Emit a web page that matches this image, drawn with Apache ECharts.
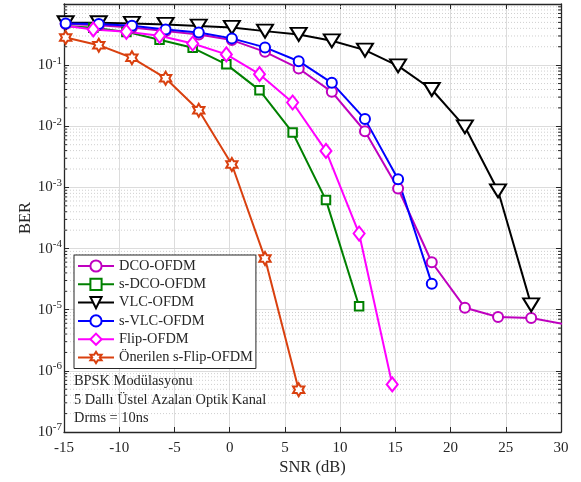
<!DOCTYPE html>
<html>
<head>
<meta charset="utf-8">
<script src="https://cdn.jsdelivr.net/npm/echarts@6/dist/echarts.min.js"></script>
<style>
  html, body { margin: 0; padding: 0; background: #ffffff; }
  #chart { width: 581px; height: 482px; }
</style>
</head>
<body>
<div id="chart"></div>
<script>
// SNR sample points (dB) for the two measurement grids
const snrMain = [-14.85, -11.85, -8.85, -5.8, -2.8, 0.2, 3.2, 6.25, 9.25, 12.25, 15.25, 18.3, 21.3, 24.3, 27.3, 30.35];
const snrShift = [-15.3, -12.35, -9.35, -6.35, -3.35, -0.3, 2.7, 5.7, 8.72, 11.72, 14.72];

// BER per scheme
const berDCO   = [0.469, 0.45, 0.414, 0.36, 0.318, 0.257, 0.165, 0.0883, 0.0366, 0.0083, 9.6e-4, 5.97e-5, 1.08e-5, 7.6e-6, 7.3e-6, 5.8e-6];
const berSDCO  = [0.44, 0.41, 0.35, 0.261, 0.192, 0.103, 0.039, 0.0079, 6.2e-4, 1.14e-5];
const berVLC   = [0.494, 0.494, 0.481, 0.464, 0.435, 0.414, 0.36, 0.318, 0.25, 0.176, 0.0974, 0.04, 0.0098, 8.8e-4, 1.2e-5];
const berSVLC  = [0.48, 0.469, 0.44, 0.384, 0.343, 0.274, 0.195, 0.116, 0.0513, 0.0131, 1.36e-3, 2.67e-5];
const berFlip  = [0.45, 0.384, 0.351, 0.302, 0.226, 0.15, 0.0712, 0.0245, 0.00396, 1.76e-4, 6.0e-7];
const berSFlip = [0.284, 0.212, 0.132, 0.0612, 0.0183, 0.00237, 6.9e-5, 4.9e-7];

const seriesNames = ['DCO-OFDM', 's-DCO-OFDM', 'VLC-OFDM', 's-VLC-OFDM', 'Flip-OFDM', 'Önerilen s-Flip-OFDM'];

// Axis ticks
const xTicks = [-15, -10, -5, 0, 5, 10, 15, 20, 25, 30];
const yExponents = [-7, -6, -5, -4, -3, -2, -1, 0];

const notes = ['BPSK Modülasyonu', '5 Dallı Üstel Azalan Optik Kanal', 'Drms = 10ns'];

const FONT = '"Liberation Serif", "Times New Roman", serif';
const INK = '#262626';
const xMin = xTicks[0], xMax = xTicks[xTicks.length - 1];
const yMin = Math.pow(10, yExponents[0]), yMax = Math.pow(10, yExponents[yExponents.length - 1]);

// minor decade positions 2..9 x 10^n
const minorY = [];
for (let e = yExponents[0]; e < yExponents[yExponents.length - 1]; e++) {
  for (let m = 2; m <= 9; m++) minorY.push(m * Math.pow(10, e));
}

const hexagram = 'path://M0,-10 L2.887,-5 L8.66,-5 L5.774,0 L8.66,5 L2.887,5 L0,10 L-2.887,5 L-8.66,5 L-5.774,0 L-8.66,-5 L-2.887,-5 Z';

function curve(name, xs, ys, color, symbol, size, extra) {
  return Object.assign({
    name: name,
    type: 'line',
    data: ys.map((v, i) => [xs[i], v]),
    symbol: symbol,
    symbolSize: size,
    showSymbol: true,
    showAllSymbol: true,
    clip: true,
    lineStyle: { color: color, width: 2 },
    itemStyle: { color: '#ffffff', borderColor: color, borderWidth: 2 },
    emphasis: { disabled: true },
    z: 3
  }, extra || {});
}

const chart = echarts.init(document.getElementById('chart'), null, { renderer: 'canvas' });

const option = {
  animation: false,
  backgroundColor: '#ffffff',
  grid: { left: 64, right: 20, top: 4, bottom: 50, show: false },
  xAxis: [
    {
      type: 'value', min: xMin, max: xMax, interval: 5,
      axisLine: { show: true, onZero: false, lineStyle: { color: INK, width: 1.3 } },
      axisTick: { show: true, inside: true, length: 5, lineStyle: { color: INK } },
      axisLabel: { color: INK, fontFamily: FONT, fontSize: 15, margin: 9,
                   formatter: v => (v < 0 ? '-' + Math.abs(v) : String(v)) },
      splitLine: { show: true, lineStyle: { color: '#dcdcdc', width: 1 } },
      name: 'SNR (dB)', nameLocation: 'middle', nameGap: 27, nameMoveOverlap: false,
      nameTextStyle: { color: INK, fontFamily: FONT, fontSize: 16.5 }
    },
    {
      type: 'value', min: xMin, max: xMax, interval: 5, position: 'top',
      axisLine: { show: true, onZero: false, lineStyle: { color: INK, width: 1.3 } },
      axisTick: { show: true, inside: true, length: 5, lineStyle: { color: INK } },
      axisLabel: { show: false },
      splitLine: { show: false }
    }
  ],
  yAxis: [
    {
      type: 'log', logBase: 10, min: yMin, max: yMax, interval: 1,
      axisLine: { show: true, onZero: false, lineStyle: { color: INK, width: 1.3 } },
      axisTick: { show: true, inside: true, length: 5, lineStyle: { color: INK } },
      axisLabel: {
        margin: 2,
        formatter: function (v) {
          const e = Math.round(Math.log10(v));
          if (e === 0) return '';
          return '{b|10}{e|' + (e < 0 ? '-' + Math.abs(e) : e) + '}';
        },
        rich: {
          b: { fontFamily: FONT, fontSize: 15, color: INK, lineHeight: 20 },
          e: { fontFamily: FONT, fontSize: 11, color: INK, verticalAlign: 'top', lineHeight: 11 }
        }
      },
      splitLine: { show: true, lineStyle: { color: '#dcdcdc', width: 1 } },
      name: 'BER', nameLocation: 'middle', nameGap: 30, nameRotate: 90, nameMoveOverlap: false,
      nameTextStyle: { color: INK, fontFamily: FONT, fontSize: 16.5 }
    },
    {
      type: 'log', logBase: 10, min: yMin, max: yMax, interval: 1, position: 'right',
      axisLine: { show: true, onZero: false, lineStyle: { color: INK, width: 1.3 } },
      axisTick: { show: true, inside: true, length: 5, lineStyle: { color: INK } },
      axisLabel: { show: false },
      splitLine: { show: false }
    }
  ],
  legend: {
    data: seriesNames,
    orient: 'vertical',
    left: 74, top: 255,
    backgroundColor: '#ffffff',
    borderColor: INK, borderWidth: 1, borderRadius: 0,
    padding: [4, 3, 4, 3],
    itemWidth: 36, itemHeight: 14, itemGap: 4.3,
    selectedMode: false,
    textStyle: { color: INK, fontFamily: FONT, fontSize: 14.4 }
  },
  graphic: [
    {
      type: 'text', left: 74, top: 372, silent: true, z: 10,
      style: {
        text: notes.join('\n'),
        font: '14.4px ' + FONT,
        lineHeight: 18.5,
        fill: INK
      }
    }
  ],
  series: [
    // dotted minor grid and minor ticks on the log axis
    {
      type: 'custom', silent: true, z: 1, clip: false,
      xAxisIndex: 0, yAxisIndex: 0,
      data: minorY.map(v => [xMin, v]),
      renderItem: function (params, api) {
        const v = api.value(1);
        const l = api.coord([xMin, v]);
        const r = api.coord([xMax, v]);
        return {
          type: 'group',
          children: [
            { type: 'line', shape: { x1: l[0], y1: l[1], x2: r[0], y2: r[1] },
              style: { stroke: '#cfcfcf', lineWidth: 1, lineDash: [1, 2] } },
            { type: 'line', shape: { x1: l[0], y1: l[1], x2: l[0] + 3, y2: l[1] },
              style: { stroke: INK, lineWidth: 1 } },
            { type: 'line', shape: { x1: r[0], y1: r[1], x2: r[0] - 3, y2: r[1] },
              style: { stroke: INK, lineWidth: 1 } }
          ]
        };
      }
    },
    curve(seriesNames[0], snrMain, berDCO, '#BF00BF', 'circle', 10),
    curve(seriesNames[1], snrShift, berSDCO, '#008000', 'rect', 8.5),
    curve(seriesNames[2], snrMain, berVLC, '#000000', 'triangle', [16, 13], { symbolRotate: 180 }),
    curve(seriesNames[3], snrMain, berSVLC, '#0000FF', 'circle', 10),
    curve(seriesNames[4], snrShift, berFlip, '#FF00FF', 'diamond', [11, 14]),
    curve(seriesNames[5], snrMain, berSFlip, '#D9400F', hexagram, 13, { symbolKeepAspect: true })
  ]
};

chart.setOption(option);
</script>
</body>
</html>
